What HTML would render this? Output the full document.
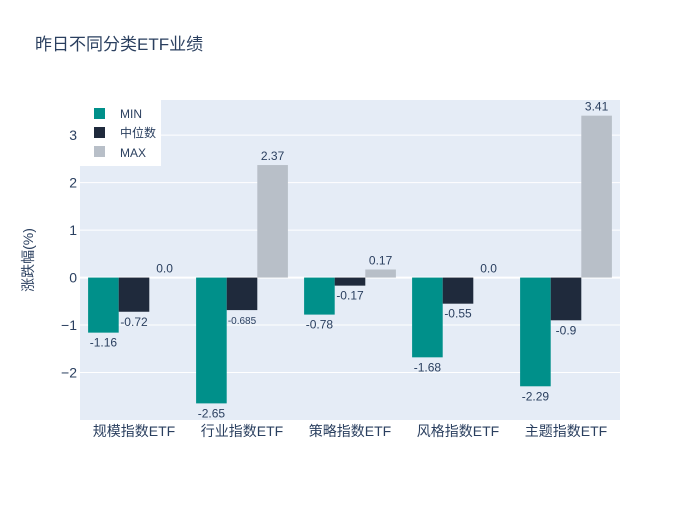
<!DOCTYPE html>
<html><head><meta charset="utf-8"><style>
body{margin:0;background:#fff;font-family:"Liberation Sans","Noto Sans CJK SC",sans-serif;}
text{font-family:"Liberation Sans","Noto Sans CJK SC",sans-serif;}
</style></head><body>
<svg id="c" width="700" height="500" xmlns="http://www.w3.org/2000/svg">
<text x="35" y="50" font-size="17" fill="#2a3f5f">昨日不同分类ETF业绩</text>
<rect x="80" y="100" width="540" height="320" fill="#e5ecf6"/>
<g id="grid"></g><g id="bars"></g><g id="labels"></g>
<text transform="translate(33,260) rotate(-90)" text-anchor="middle" font-size="14" fill="#2a3f5f">涨跌幅(%)</text>
<g>
<rect x="80" y="95" width="81" height="71" fill="#fff"/>
<rect x="94" y="108" width="11" height="11" fill="#00908a"/>
<text x="120" y="118" font-size="12" fill="#2a3f5f">MIN</text>
<rect x="94" y="127" width="11" height="11" fill="#1f2a3c"/>
<text x="120" y="137" font-size="12" fill="#2a3f5f">中位数</text>
<rect x="94" y="146" width="11" height="11" fill="#b8bfc8"/>
<text x="120" y="157" font-size="12" fill="#2a3f5f">MAX</text>
</g>
</svg>
<script>
const categories=["规模指数ETF","行业指数ETF","策略指数ETF","风格指数ETF","主题指数ETF"];
const minVals=[-1.16,-2.65,-0.78,-1.68,-2.29];
const medVals=[-0.72,-0.685,-0.17,-0.55,-0.9];
const maxVals=[0.0,2.37,0.17,0.0,3.41];
const yTicks=[-2,-1,0,1,2,3];
const yTickLabels=["−2","−1","0","1","2","3"];
const NS="http://www.w3.org/2000/svg";
const x0=80,w=540,yTop=100,yBot=420,vMin=-3.0,vMax=3.74;
const y=v=>yBot-(v-vMin)/(vMax-vMin)*(yBot-yTop);
const band=w/categories.length,bw=band*0.85/3;
function mk(t,a,p){const e=document.createElementNS(NS,t);for(const k in a)e.setAttribute(k,a[k]);p.appendChild(e);return e;}
const grid=document.getElementById('grid'),bars=document.getElementById('bars'),labels=document.getElementById('labels'),svg=document.getElementById('c');
yTicks.forEach((t,i)=>{
 const l=mk('line',{x1:x0,x2:x0+w,y1:y(t),y2:y(t),stroke:'#fff','stroke-width':t===0?2:1},grid);
 
 
 const tx=mk('text',{x:x0-3,y:y(t)+5,'text-anchor':'end','font-size':14,fill:'#2a3f5f'},svg);
 tx.textContent=yTickLabels[i];
 
 
});
const series=[[minVals,'#00908a','min'],[medVals,'#1f2a3c','median'],[maxVals,'#b8bfc8','max']];
categories.forEach((c,i)=>{
 const bx=x0+band*i+band*0.075;
 series.forEach(([vals,col,nm],s)=>{
  const v=vals[i],xx=bx+s*bw,top=Math.min(y(v),y(0)),h=Math.abs(y(v)-y(0));
  const r=mk('rect',{x:xx,y:top,width:bw,height:h,fill:col},bars);
  
  
  const small=String(v).length>5;
  const ly=v<0?y(v)+14:y(v)-5;
  const t=mk('text',{x:xx+bw/2,y:ly,'text-anchor':'middle','font-size':small?10:12,fill:'#2a3f5f'},labels);
  t.textContent=v===0?'0.0':String(v);
  
  
 });
 const cl=mk('text',{x:x0+band*(i+0.5),y:436,'text-anchor':'middle','font-size':14,fill:'#2a3f5f'},svg);
 cl.textContent=c;
 
 
});
</script>
</body></html>
